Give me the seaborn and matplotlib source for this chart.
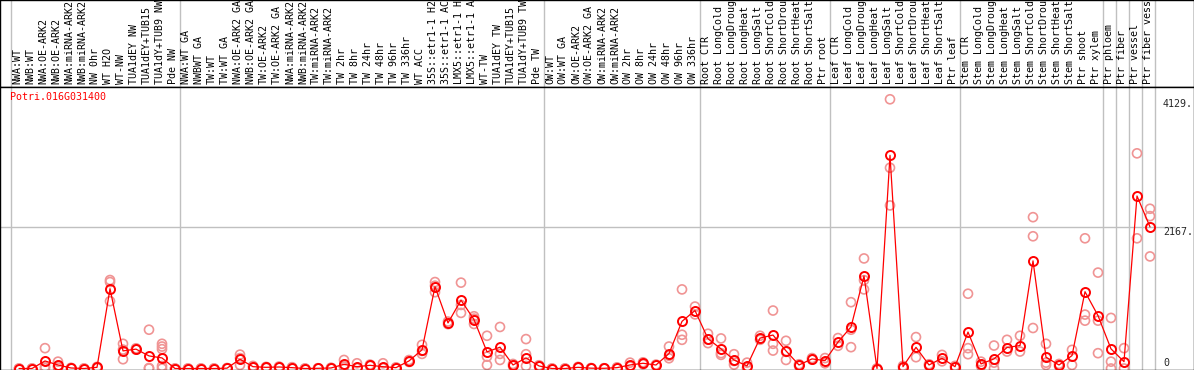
import numpy as np
import pandas as pd
import seaborn as sns
import matplotlib.pyplot as plt

gene = "Potri.016G031400"

# sample labels, one list per group (separated by grey lines)
grp_nw = ["NWA:WT", "NWB:WT", "NWA:OE-ARK2", "NWB:OE-ARK2", "NWA:miRNA-ARK2",
          "NWB:miRNA-ARK2", "NW 0hr", "WT H2O", "WT-NW", "TUA1dEY NW",
          "TUA1dEY+TUB15", "TUA1dY+TUB9 NW", "Pde NW"]
grp_tw = ["NWA:WT GA", "NWBWT GA", "TW:WT", "TW:WT GA", "NWA:OE-ARK2 GA",
          "NWB:OE-ARK2 GA", "TW:OE-ARK2", "TW:OE-ARK2 GA", "NWA:miRNA-ARK2",
          "NWB:miRNA-ARK2", "TW:miRNA-ARK2", "TW:miRNA-ARK2", "TW 2hr", "TW 8hr",
          "TW 24hr", "TW 48hr", "TW 96hr", "TW 336hr", "WT ACC", "35S::etr1-1 H2",
          "35S::etr1-1 AC", "LMX5::etr1-1 H", "LMX5::etr1-1 A", "WT-TW",
          "TUA1dEY TW", "TUA1dEY+TUB15", "TUA1dY+TUB9 TW", "Pde TW"]
grp_ow = ["OW:WT", "OW:WT GA", "OW:OE-ARK2", "OW:OE-ARK2 GA", "OW:miRNA-ARK2",
          "OW:miRNA-ARK2", "OW 2hr", "OW 8hr", "OW 24hr", "OW 48hr", "OW 96hr",
          "OW 336hr"]
grp_root = ["Root CTR", "Root LongCold", "Root LongDroug", "Root LongHeat",
            "Root LongSalt", "Root ShortCold", "Root ShortDrou", "Root ShortHeat",
            "Root ShortSalt", "Ptr root"]
grp_leaf = ["Leaf CTR", "Leaf LongCold", "Leaf LongDroug", "Leaf LongHeat",
            "Leaf LongSalt", "Leaf ShortCold", "Leaf ShortDrou", "Leaf ShortHeat",
            "Leaf ShortSalt", "Ptr leaf"]
grp_stem = ["Stem CTR", "Stem LongCold", "Stem LongDroug", "Stem LongHeat",
            "Stem LongSalt", "Stem ShortCold", "Stem ShortDrou", "Stem ShortHeat",
            "Stem ShortSalt", "Ptr shoot", "Ptr xylem"]
grp_ptr = [["Ptr phloem"], ["Ptr fiber"], ["Ptr vessel"], ["Ptr fiber vess"]]

groups = [grp_nw, grp_tw, grp_ow, grp_root, grp_leaf, grp_stem] + grp_ptr
labels = [s for g in groups for s in g]

# mean expression per sample
means = [0, 0, 116, 54, 8, 0, 18, 1224, 270, 297, 193, 162, 0,
         0, 0, 0, 5, 142, 28, 18, 23, 13, 0, 3, 8, 64, 28, 49, 28, 13, 116, 286,
         1255, 699, 1048, 750, 255, 327, 54, 162, 39,
         0, 0, 18, 5, 3, 13, 54, 80, 54, 229, 723, 889,
         456, 301, 131, 39, 466, 513, 270, 54, 147, 121,
         405, 637, 1419, 0, 3270, 28, 325, 54, 157, 28,
         559, 70, 147, 322, 352, 1651, 173, 54, 198, 1178, 811,
         301, 105, 2646, 2172]

# individual replicates
replicates = [[0, 0], [0, 0], [312, 30, 5], [105, 40, 15], [10, 5], [0, 0],
              [25, 10], [1357, 1326, 1032], [379, 142, 290], [310, 290],
              [595, 8, 0], [379, 337, 297, 39, 0], [0, 0],
              [0, 0], [0, 0], [0, 0], [8, 2], [213, 54, 160], [40, 15], [25, 10],
              [30, 15], [20, 5], [0, 0], [5, 0], [12, 4], [131, 30, 30], [80, 5],
              [60, 40], [80, 5], [18, 8], [130, 100], [363, 224, 270],
              [1326, 1270, 1170], [720, 680], [1317, 853, 975], [801, 683, 765],
              [502, 182, 54], [637, 224, 131], [70, 40], [451, 219, 39], [50, 30],
              [0, 0], [0, 0], [25, 10], [8, 2], [5, 0], [18, 8], [90, 30],
              [95, 65], [60, 48], [337, 157, 195], [1213, 518, 440], [950, 830],
              [533, 389, 445], [461, 209, 235], [219, 60, 115], [90, 10],
              [502, 440], [889, 379, 275], [425, 131, 255], [65, 40], [160, 135],
              [80, 160],
              [467, 348], [1017, 595, 327], [1688, 1213, 1355], [0, 0],
              [4129, 3079, 2501], [40, 15], [482, 173], [65, 45], [209, 110],
              [40, 15],
              [1147, 312, 219], [105, 40], [352, 90, 0], [440, 260], [502, 260],
              [2321, 2028, 621], [379, 54, 90], [70, 40], [286, 54],
              [1997, 827, 734], [1471, 734, 235],
              [776, 105, 0], [312, 0], [3300, 1997], [2450, 2337, 1719]]

y_ticks = [4129, 2167, 0]

df_mean = pd.DataFrame({"pos": np.arange(len(means)), "value": means})
df_rep = pd.DataFrame([(i, v) for i, r in enumerate(replicates) for v in r],
                      columns=["pos", "value"])

sns.set_style("white")
plt.rcParams['font.family'] = ['DejaVu Sans Mono']

W, H = 1194, 370
head = 87  # label strip height in px
fig = plt.figure(figsize=(W / 100, H / 100), dpi=100)
ax_top = fig.add_axes([0, 1 - head / H, 1, head / H])
ax = fig.add_axes([0, 0, 1, 1 - head / H])

# pixel layout: first sample at x=19, one sample every 13 px
x0, step = 19, 13
xlim = (-x0 / step, (W - x0) / step)
zero_px, scale = 368.5, 0.0652
ylim = (-(H - zero_px) / scale, (zero_px - head) / scale)

grey = "#c0c0c0"
bounds = np.cumsum([len(g) for g in groups]) - 1
for b in [-1] + list(bounds):
    ax.axvline(b + 0.42, color=grey, lw=1, zorder=0)
    ax_top.axvline(b + 0.42, color=grey, lw=1, zorder=0)
ax.hlines(y_ticks[1], xlim[0], len(means) + 0.9, color=grey, lw=1, zorder=0)

sns.scatterplot(data=df_rep, x="pos", y="value", marker="o", s=42,
                facecolors="none", edgecolors="#f09494", linewidths=1.2,
                ax=ax, zorder=2)
sns.lineplot(data=df_mean, x="pos", y="value", color="red", lw=0.9,
             marker="o", markersize=6.5, markerfacecolor="none",
             markeredgecolor="red", markeredgewidth=1.4, errorbar=None,
             ax=ax, zorder=3)

for i, lab in enumerate(labels):
    ax_top.text(i - 0.15, 3, lab, rotation=90, ha="center", va="bottom",
                fontsize=7.2, color="black")

ax.text(-0.69, (zero_px - 97) / scale, gene, color="red", fontsize=7.2,
        va="center", ha="left")
xt = (1163 - x0) / step
ax.text(xt, y_ticks[0], "%d." % y_ticks[0], fontsize=7.2, va="top", ha="left")
ax.text(xt, y_ticks[1], "%d." % y_ticks[1], fontsize=7.2, va="top", ha="left")
ax.text(xt, y_ticks[2], "%d" % y_ticks[2], fontsize=7.2, va="bottom", ha="left")

for a in (ax, ax_top):
    a.set_xlim(*xlim)
    a.set_xticks([])
    a.set_yticks([])
    a.set_xlabel("")
    a.set_ylabel("")
    for sp in a.spines.values():
        sp.set_color("black")
        sp.set_linewidth(1)
ax.set_ylim(*ylim)
ax_top.set_ylim(0, head)

fig.savefig("out.png", dpi=100)
